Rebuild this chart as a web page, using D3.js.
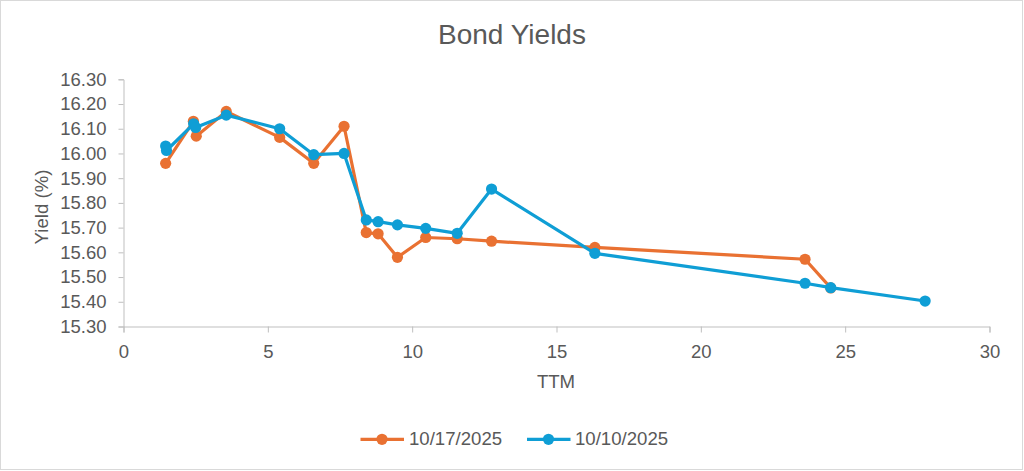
<!DOCTYPE html>
<html>
<head>
<meta charset="utf-8">
<script src="https://cdn.jsdelivr.net/npm/d3@7"></script>
<style>
  html, body { margin: 0; padding: 0; background: #fff; }
  svg { display: block; }
  text { font-family: "Liberation Sans", Arial, sans-serif; fill: #595959; }
</style>
</head>
<body>
<div id="chart"></div>
<script>
// ---- data ----
const seriesNames = ["10/17/2025", "10/10/2025"];
const seriesColors = ["#E97132", "#0F9ED5"];

const ttmA = [1.46, 2.42, 2.52, 3.56, 5.41, 6.59, 7.64, 8.41, 8.82, 9.49, 10.47, 11.56, 12.75, 16.33, 23.61, 24.50];
const yieldA = [15.96, 16.13, 16.07, 16.17, 16.065, 15.96, 16.11, 15.68, 15.675, 15.58, 15.66, 15.655, 15.645, 15.62, 15.572, 15.456];

const ttmB = [1.46, 1.49, 2.43, 2.50, 3.56, 5.41, 6.59, 7.64, 8.41, 8.82, 9.49, 10.47, 11.56, 12.75, 16.33, 23.61, 24.50, 27.77];
const yieldB = [16.03, 16.012, 16.12, 16.105, 16.155, 16.10, 15.995, 16.00, 15.731, 15.724, 15.711, 15.697, 15.677, 15.856, 15.596, 15.475, 15.457, 15.403];

const xTicks = [0, 5, 10, 15, 20, 25, 30];
const yTicks = [15.3, 15.4, 15.5, 15.6, 15.7, 15.8, 15.9, 16.0, 16.1, 16.2, 16.3];

const title = "Bond Yields";
const xTitle = "TTM";
const yTitle = "Yield (%)";

// ---- layout ----
const W = 1024, H = 471;
const svg = d3.select("#chart").append("svg").attr("width", W).attr("height", H);

svg.append("rect").attr("x", 0.5).attr("y", 0.5).attr("width", 1022).attr("height", 469)
  .attr("fill", "#fff").attr("stroke", "#d9d9d9");

const x = d3.scaleLinear().domain([0, 30]).range([123.5, 989.5]);
const y = d3.scaleLinear().domain([15.3, 16.3]).range([326.5, 79.3]);

const axisColor = "#bfbfbf";

// y axis
const yAxis = svg.append("g").attr("transform", "translate(123.5,0)")
  .call(d3.axisLeft(y).tickValues(yTicks).tickFormat(d3.format(".2f")).tickSize(5).tickPadding(12));
// x axis
const xAxis = svg.append("g").attr("transform", "translate(0,326.5)")
  .call(d3.axisBottom(x).tickValues(xTicks).tickFormat(d3.format("d")).tickSize(6).tickPadding(12));

[yAxis, xAxis].forEach(g => {
  g.select(".domain").attr("stroke", axisColor);
  g.selectAll(".tick line").attr("stroke", axisColor);
  g.selectAll(".tick text").attr("fill", "#595959").style("font-size", "18.5px")
    .style("font-family", "'Liberation Sans', Arial, sans-serif");
});
// x axis domain should not extend with outer ticks beyond; fine.

// titles
svg.append("text").attr("x", 512).attr("y", 44).attr("text-anchor", "middle")
  .style("font-size", "28px").text(title);
svg.append("text").attr("x", 556).attr("y", 388).attr("text-anchor", "middle")
  .style("font-size", "18.6px").text(xTitle);
svg.append("text").attr("transform", "translate(48,207) rotate(-90)").attr("text-anchor", "middle")
  .style("font-size", "18.6px").text(yTitle);

// series
const series = [
  { name: seriesNames[0], color: seriesColors[0], pts: ttmA.map((t, i) => [t, yieldA[i]]) },
  { name: seriesNames[1], color: seriesColors[1], pts: ttmB.map((t, i) => [t, yieldB[i]]) }
];
const line = d3.line().x(d => x(d[0])).y(d => y(d[1]));

series.forEach(s => {
  const g = svg.append("g");
  g.append("path").attr("d", line(s.pts)).attr("fill", "none")
    .attr("stroke", s.color).attr("stroke-width", 3.2).attr("stroke-linejoin", "round");
  g.selectAll("circle").data(s.pts).join("circle")
    .attr("cx", d => x(d[0])).attr("cy", d => y(d[1])).attr("r", 5.6)
    .attr("fill", s.color);
});

// legend
const legendItems = [
  { x0: 360.5, tx: 409 },
  { x0: 527, tx: 575 }
];
series.forEach((s, i) => {
  const lg = svg.append("g");
  const x0 = legendItems[i].x0;
  lg.append("line").attr("x1", x0).attr("x2", x0 + 43.5).attr("y1", 439.3).attr("y2", 439.3)
    .attr("stroke", s.color).attr("stroke-width", 3.2);
  lg.append("circle").attr("cx", x0 + 21.5).attr("cy", 439.3).attr("r", 5.6).attr("fill", s.color);
  lg.append("text").attr("x", legendItems[i].tx).attr("y", 445).style("font-size", "18.6px").text(s.name);
});
</script>
</body>
</html>
